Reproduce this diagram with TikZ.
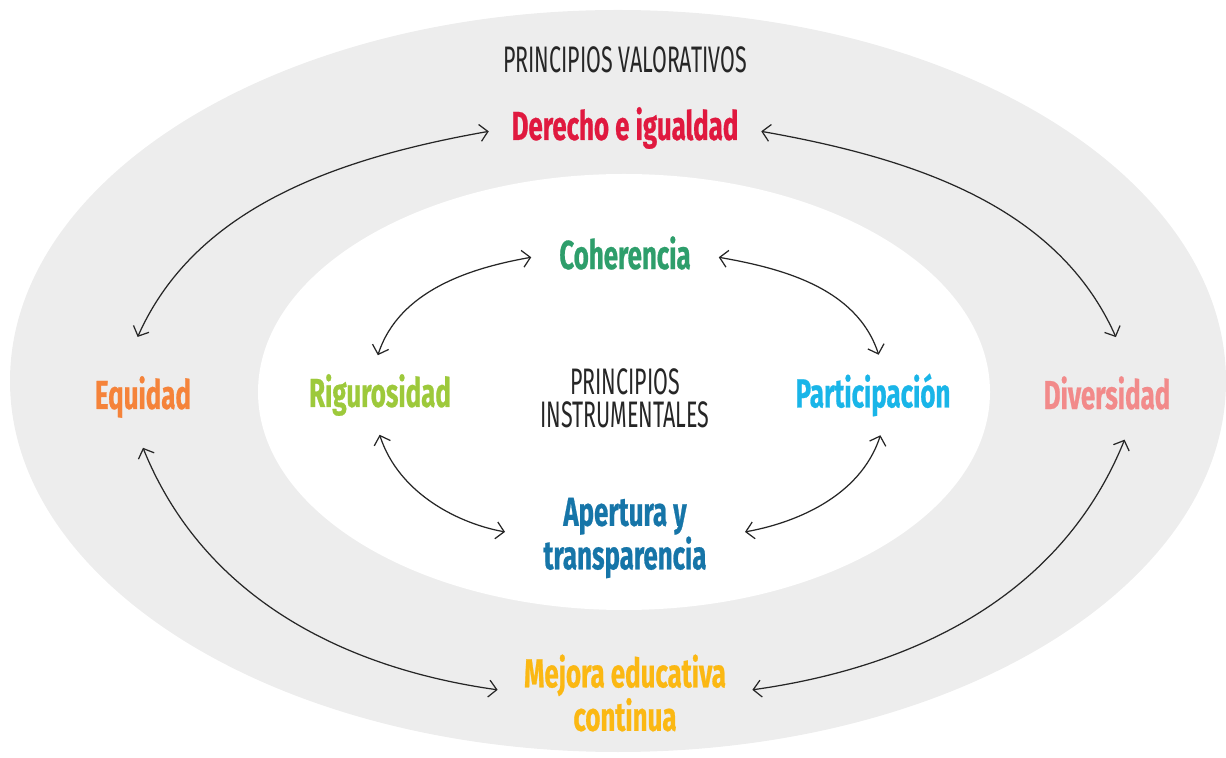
\documentclass[tikz,border=0pt]{standalone}
\usepackage{fontspec}
\usetikzlibrary{arrows.meta}
\newfontfamily\valfont{Fira Sans}[FakeStretch=0.64, BoldFeatures={FakeBold=0.6}]
\newfontfamily\capsfont{Fira Sans}[FakeStretch=0.58]
\definecolor{ringGray}{HTML}{EDEDED}
\definecolor{derechoRed}{HTML}{E0193F}
\definecolor{equidadOrange}{HTML}{F5833A}
\definecolor{diversidadPink}{HTML}{F28A8A}
\definecolor{mejoraAmber}{HTML}{FBB813}
\definecolor{coherenciaGreen}{HTML}{2E9E6B}
\definecolor{rigurosidadLime}{HTML}{9DC93B}
\definecolor{participacionCyan}{HTML}{19B5E8}
\definecolor{aperturaBlue}{HTML}{1675A8}
\tikzset{
  principle/.style={font=\valfont\bfseries\fontsize{23}{19}\selectfont, align=center, inner sep=2pt},
  heading/.style={font=\capsfont\fontsize{21}{19}\selectfont, text=black!85, align=center, inner sep=2pt},
  link/.style={{Straight Barb[length=1.6mm,width=3.4mm]}-{Straight Barb[length=1.6mm,width=3.4mm]},
    draw=black!85, line width=0.7pt}
}
\begin{document}
\begin{tikzpicture}[x=0.02cm, y=0.02cm]
  \useasboundingbox (0,0) rectangle (1226,757);
  % rings
  \fill[ringGray] (618,376) ellipse [x radius=608, y radius=371];
  \fill[white] (624,365) ellipse [x radius=366, y radius=218];

  % outer ring
  \node [heading] (valorativos) at (625,697) {PRINCIPIOS VALORATIVOS};
  \node [principle, text=derechoRed] (derecho) at (625,629) {Derecho e igualdad};
  \node [principle, text=equidadOrange] (equidad) at (143,360) {Equidad};
  \node [principle, text=diversidadPink] (diversidad) at (1107,364) {Diversidad};
  \node [principle, text=mejoraAmber] (mejora) at (625,64) {Mejora educativa\\continua};

  % inner ring
  \node [heading] (instrumentales) at (625,359) {PRINCIPIOS\\INSTRUMENTALES};
  \node [principle, text=coherenciaGreen] (coherencia) at (625,504) {Coherencia};
  \node [principle, text=rigurosidadLime] (rigurosidad) at (380,362) {Rigurosidad};
  \node [principle, text=participacionCyan] (participacion) at (873,362) {Participación};
  \node [principle, text=aperturaBlue] (apertura) at (625,219) {Apertura y\\transparencia};

  \draw [link, shorten <=11pt, shorten >=22pt] (derecho.west) to[out=190, in=66] ([xshift=-12pt]equidad.north);
  \draw [link, shorten <=11pt, shorten >=22pt] (derecho.east) to[out=-10, in=114] ([xshift=14pt]diversidad.north);
  \draw [link, shorten <=16pt, shorten >=13pt] ([xshift=-6pt]equidad.south) to[out=-68, in=172] (mejora.west);
  \draw [link, shorten <=16pt, shorten >=13pt] ([xshift=16pt]diversidad.south) to[out=-112, in=8] (mejora.east);

  \draw [link, shorten <=14pt, shorten >=9pt] (coherencia.west) to[out=190, in=72] ([xshift=-4pt]rigurosidad.north);
  \draw [link, shorten <=14pt, shorten >=9pt] (coherencia.east) to[out=-10, in=108] ([xshift=6pt]participacion.north);
  \draw [link, shorten <=9pt, shorten >=20pt] ([xshift=-3pt]rigurosidad.south) to[out=-72, in=170] (apertura.west);
  \draw [link, shorten <=9pt, shorten >=20pt] ([xshift=7pt]participacion.south) to[out=-108, in=10] (apertura.east);
\end{tikzpicture}
\end{document}
